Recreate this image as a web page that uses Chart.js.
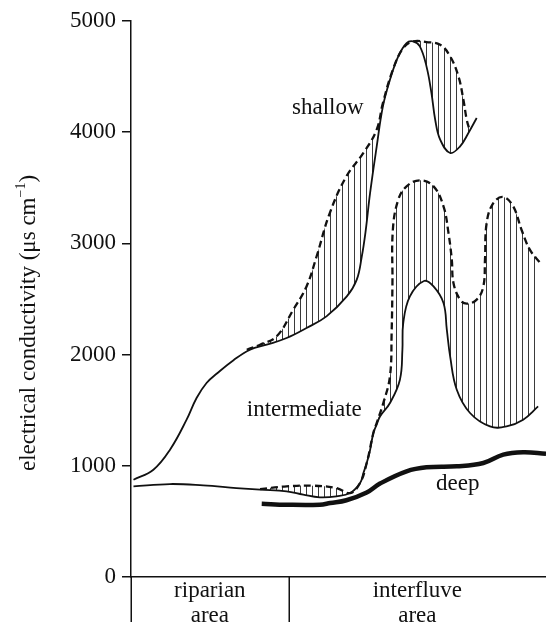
<!DOCTYPE html>
<html>
<head>
<meta charset="utf-8">
<script src="https://cdn.jsdelivr.net/npm/chart.js@4.4.1/dist/chart.umd.min.js"></script>
<style>
  html, body { margin: 0; padding: 0; background: #fff; }
  #wrap { width: 546px; height: 622px; position: relative; }
</style>
</head>
<body>
<div id="wrap"><canvas id="ec"></canvas></div>
<script>
// position along the transect (0-100) and conductivity (µS/cm)
const shallowSolidX = [0.6, 5.4, 9.4, 13.4, 15.8, 18.2, 20.7, 24.7, 28.7, 32.7, 37.5, 42.3, 47.1, 52.0, 54.4, 55.6, 56.5, 57.6, 59.2, 60.7, 62.4, 64.4, 66.4, 68.0, 69.6, 71.2, 72.4, 73.3, 74.5, 76.9, 79.3, 81.3, 83.3];
const shallowSolidY = [875, 965, 1145, 1415, 1610, 1745, 1830, 1950, 2044, 2089, 2149, 2239, 2344, 2523, 2674, 2880, 3100, 3450, 3870, 4232, 4472, 4682, 4802, 4817, 4772, 4592, 4352, 4112, 3933, 3813, 3873, 3993, 4128];

const shallowDashX = [27.9, 31.1, 35.1, 39.1, 42.3, 44.7, 47.9, 51.9, 56.0, 59.2, 60.7, 63.1, 65.6, 68.0, 71.2, 74.5, 76.9, 78.9, 80.1, 80.9, 81.7];
const shallowDashY = [2044, 2089, 2164, 2404, 2613, 2880, 3273, 3603, 3813, 4023, 4262, 4562, 4757, 4817, 4811, 4787, 4682, 4502, 4292, 4112, 4007];

const interSolidX = [0.6, 9.4, 17.4, 25.4, 31.1, 37.5, 41.5, 45.5, 49.5, 52.8, 55.2, 56.0, 56.8, 57.6, 58.4, 59.2, 60.0, 62.4, 64.8, 65.4, 65.6, 67.2, 70.6, 72.9, 75.3, 76.1, 76.9, 78.5, 81.7, 86.5, 90.5, 94.5, 98.1];
const interSolidY = [815, 836, 824, 800, 785, 770, 740, 716, 725, 755, 845, 935, 1025, 1140, 1295, 1370, 1444, 1565, 1774, 2044, 2284, 2523, 2662, 2613, 2464, 2224, 1984, 1684, 1475, 1354, 1354, 1415, 1534];

const interDashX = [31.1, 37.5, 43.9, 49.5, 52.8, 55.2, 56.8, 58.4, 59.2, 60.8, 62.4, 62.8, 63.0, 63.1, 64.4, 66.4, 69.6, 72.9, 75.3, 76.5, 77.3, 77.7, 79.3, 80.9, 83.3, 84.9, 85.3, 85.7, 87.3, 89.7, 92.1, 94.1, 96.1, 98.6];
const interDashY = [791, 815, 821, 800, 755, 845, 1025, 1295, 1385, 1565, 1804, 2194, 2644, 3123, 3393, 3513, 3567, 3513, 3333, 3094, 2854, 2644, 2494, 2458, 2494, 2613, 2854, 3183, 3363, 3417, 3333, 3123, 2944, 2824];

const deepX = [31.5, 37.5, 45.5, 48.0, 51.9, 56.8, 60.0, 66.4, 71.2, 78.5, 84.9, 89.7, 94.5, 100];
const deepY = [659, 650, 650, 665, 690, 760, 840, 950, 986, 995, 1025, 1100, 1121, 1109];

const yTicks = [0, 1000, 2000, 3000, 4000, 5000];
const zoneNames = [['riparian', 'area'], ['interfluve', 'area']];
const zoneEdges = [0, 38, 100];

const FONT = "'Liberation Serif', 'Times New Roman', serif";
const INK = '#111';

const pts = (xs, ys) => xs.map((x, i) => ({ x, y: ys[i] }));

function hatchPattern(ctx) {
  const c = document.createElement('canvas');
  c.width = 6; c.height = 6;
  const g = c.getContext('2d');
  g.fillStyle = '#3a3a3a';
  g.fillRect(0, 0, 1, 6);
  return ctx.createPattern(c, 'repeat');
}

const canvas = document.getElementById('ec');
const hatch = hatchPattern(canvas.getContext('2d'));

const lineBase = { borderColor: INK, pointRadius: 0, tension: 0.4, fill: false };

// curve names, side labels, y-axis title
const annotations = {
  id: 'annotations',
  afterDraw(chart) {
    const { ctx, scales: { x, y }, chartArea } = chart;
    ctx.save();
    ctx.fillStyle = INK;
    ctx.font = `23px ${FONT}`;
    ctx.textBaseline = 'alphabetic';
    ctx.textAlign = 'left';
    [['shallow', 38.8, 4166], ['intermediate', 27.9, 1444], ['deep', 73.5, 779]].forEach(([t, vx, vy]) => {
      ctx.fillText(t, x.getPixelForValue(vx), y.getPixelForValue(vy));
    });

    // zone separators under the axis
    ctx.strokeStyle = INK;
    ctx.lineWidth = 1.5;
    const bottom = chartArea.bottom;
    zoneEdges.slice(0, -1).forEach(v => {
      const px = Math.round(x.getPixelForValue(v)) + 0.25;
      ctx.beginPath();
      ctx.moveTo(px, bottom);
      ctx.lineTo(px, chart.height);
      ctx.stroke();
    });
    ctx.textAlign = 'center';
    zoneNames.forEach((lines, i) => {
      const cx = x.getPixelForValue((zoneEdges[i] + zoneEdges[i + 1]) / 2);
      ctx.fillText(lines[0], cx, bottom + 20);
      ctx.fillText(lines[1], cx, bottom + 45);
    });

    // rotated axis title with superscript
    ctx.translate(27, 323);
    ctx.rotate(-Math.PI / 2);
    const main = 'electrical conductivity (\u03bcs cm';
    const sup = '\u22121';
    ctx.font = `23px ${FONT}`;
    const w1 = ctx.measureText(main).width;
    const w3 = ctx.measureText(')').width;
    ctx.font = `14px ${FONT}`;
    const w2 = ctx.measureText(sup).width;
    const total = w1 + w2 + w3;
    ctx.textAlign = 'left';
    ctx.textBaseline = 'middle';
    let cx = -total / 2;
    ctx.font = `23px ${FONT}`;
    ctx.fillText(main, cx, 2);
    cx += w1;
    ctx.font = `14px ${FONT}`;
    ctx.fillText(sup, cx, -6);
    cx += w2;
    ctx.font = `23px ${FONT}`;
    ctx.fillText(')', cx, 2);
    ctx.restore();
  }
};

new Chart(canvas, {
  type: 'line',
  data: {
    datasets: [
      { ...lineBase, label: 'shallow', data: pts(shallowSolidX, shallowSolidY), borderWidth: 1.8 },
      { ...lineBase, label: 'shallow dashed', data: pts(shallowDashX, shallowDashY), borderWidth: 2.3, borderDash: [7, 4], fill: 0, backgroundColor: hatch },
      { ...lineBase, label: 'intermediate', data: pts(interSolidX, interSolidY), borderWidth: 1.8 },
      { ...lineBase, label: 'intermediate dashed', data: pts(interDashX, interDashY), borderWidth: 2.3, borderDash: [7, 4], fill: 2, backgroundColor: hatch },
      { ...lineBase, label: 'deep', data: pts(deepX, deepY), borderWidth: 4.5 }
    ]
  },
  options: {
    responsive: true,
    maintainAspectRatio: false,
    animation: false,
    layout: { padding: { top: 21, right: 0, bottom: 0, left: 0 } },
    plugins: { legend: { display: false }, tooltip: { enabled: false } },
    scales: {
      x: {
        type: 'linear', min: 0, max: 100,
        ticks: { display: false },
        grid: { display: false, drawTicks: false },
        border: { display: true, color: INK, width: 1.5 },
        afterFit: s => { s.height = 45; }
      },
      y: {
        min: 0, max: 5000,
        afterBuildTicks: s => { s.ticks = yTicks.map(v => ({ value: v })); },
        ticks: { color: INK, padding: 6, font: { family: FONT, size: 23 }, callback: v => String(v) },
        grid: { drawOnChartArea: false, drawTicks: true, tickLength: 9, color: INK, lineWidth: 1.5 },
        border: { display: true, color: INK, width: 1.5 },
        afterFit: s => { s.width = 131; }
      }
    }
  },
  plugins: [annotations]
});
</script>
</body>
</html>
